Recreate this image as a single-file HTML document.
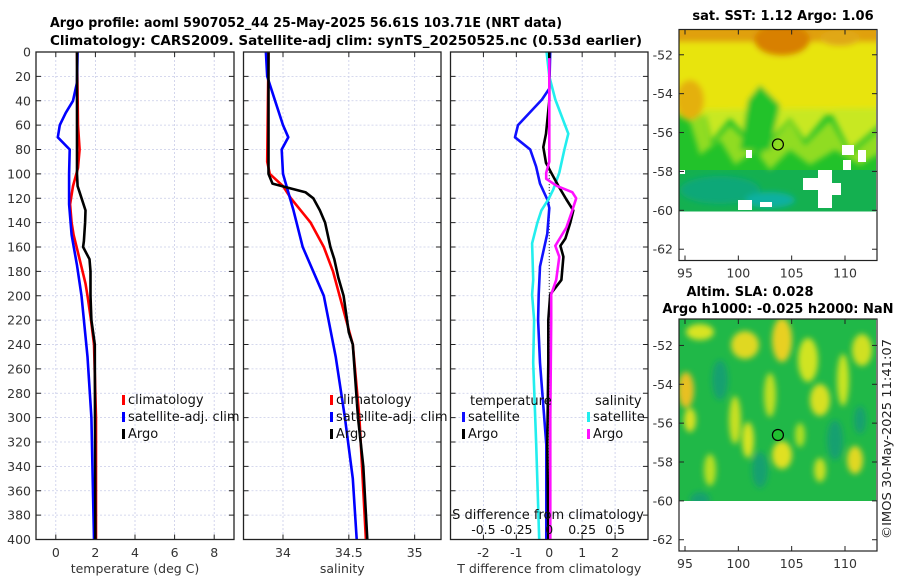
<!DOCTYPE html>
<html><head><meta charset="utf-8"><style>
html,body{margin:0;padding:0;background:#fff;width:900px;height:580px;overflow:hidden}
svg text{font-family:"DejaVu Sans","Liberation Sans",sans-serif}
</style></head><body>
<svg id="fig" xmlns="http://www.w3.org/2000/svg" width="900" height="580" viewBox="0 0 900 580">
<defs>
<filter id="blur3" x="-20%" y="-20%" width="140%" height="140%"><feGaussianBlur stdDeviation="3"/></filter>
<filter id="blur2" x="-20%" y="-20%" width="140%" height="140%"><feGaussianBlur stdDeviation="1.5"/></filter>
<clipPath id="clipTop"><rect x="679" y="29.5" width="197" height="182"/></clipPath>
<clipPath id="clipBot"><rect x="679" y="319" width="197" height="182"/></clipPath>
</defs>
<g font-weight="bold" font-size="13" fill="#000">
<text x="50" y="27" textLength="512" lengthAdjust="spacingAndGlyphs">Argo profile: aoml 5907052_44 25-May-2025 56.61S 103.71E (NRT data)</text>
<text x="50" y="45" textLength="592" lengthAdjust="spacingAndGlyphs">Climatology: CARS2009. Satellite-adj clim: synTS_20250525.nc (0.53d earlier)</text>
</g>
<g id="panels"></g>
<g id="maps"></g>
<text x="0" y="0" font-size="12" fill="#222" transform="translate(891,539) rotate(-90)" textLength="200" lengthAdjust="spacingAndGlyphs">©IMOS 30-May-2025 11:41:07</text>
</svg>
<script>
// ---------- data ----------
const depthT = [0,25,40,50,60,70,80,100,125,150,175,200,250,300,400];
const tempSat = [1.1,1.07,0.87,0.5,0.2,0.1,0.7,0.67,0.67,0.8,1.07,1.3,1.6,1.8,1.93];
const depthTc = [0,60,80,95,110,125,140,150,170,190,200,220,240,300,400];
const tempClim = [1.07,1.12,1.2,1.12,0.87,0.72,0.8,0.9,1.2,1.5,1.6,1.78,1.93,2.03,2.03];
const depthTa = [0,100,110,115,130,140,155,160,170,180,200,220,240,300,400];
const tempArgo = [1.07,1.07,1.1,1.2,1.5,1.48,1.42,1.38,1.7,1.75,1.75,1.8,1.97,1.98,2.0];

const depthSa = [0,100,108,112,115,120,130,140,160,170,185,200,230,240,300,340,400];
const salArgo = [33.89,33.89,33.92,34.06,34.17,34.23,34.28,34.32,34.36,34.39,34.42,34.46,34.5,34.53,34.57,34.61,34.64];
const depthSc = [0,90,100,110,120,140,160,180,200,240,300,400];
const salClim = [33.89,33.88,33.9,34.0,34.06,34.21,34.31,34.38,34.43,34.53,34.58,34.63];
const depthSs = [0,20,40,60,70,80,100,130,160,200,250,300,350,400];
const salSat = [33.87,33.88,33.94,34.0,34.04,33.99,34.0,34.08,34.15,34.31,34.4,34.47,34.53,34.56];

const depthD = [0,30,39,60,70,80,94,108,121,128,149,176,199,220,255,322,400];
const dTsat = [0.03,0.0,-0.22,-0.95,-1.04,-0.58,-0.4,-0.28,-0.06,0.0,-0.06,-0.28,-0.32,-0.34,-0.28,-0.09,-0.09];
const depthDa = [0,40,67,78,91,99,110,121,130,140,153,159,168,187,199,220,255,322,400];
const dTargo = [0,0,-0.1,-0.18,-0.1,0.06,0.28,0.52,0.73,0.64,0.49,0.34,0.43,0.37,0.03,-0.03,-0.03,-0.06,-0.03];
const depthDs = [0,20,39,67,80,99,113,121,130,140,157,187,199,220,255,322,400];
const dSsat = [-0.02,0,0.046,0.145,0.115,0.076,0.03,-0.007,-0.06,-0.09,-0.13,-0.122,-0.13,-0.115,-0.122,-0.099,-0.076];
const depthDsa = [5,90,99,104,110,115,120,130,144,159,168,187,199,220,300,400];
const dSargo = [0,0,-0.023,-0.023,0.06,0.175,0.205,0.175,0.13,0.046,0.076,0.053,0.015,0.015,0.008,0.008];

const depthTicks = [0,20,40,60,80,100,120,140,160,180,200,220,240,260,280,300,320,340,360,380,400];
const tTicks = [0,2,4,6,8];
const sTicks = [34,34.5,35];
const sTickLabels = ['34','34.5','35'];
const dTTicks = [-2,-1,0,1,2];
const dSTicks = [-0.5,-0.25,0,0.25,0.5];
const dSTickLabels = ['-0.5','-0.25','0','0.25','0.5'];
const latTicks = [-52,-54,-56,-58,-60,-62];
const lonTicks = [95,100,105,110];
const argoLon = 103.71, argoLat = -56.61;

// ---------- helpers ----------
const NS='http://www.w3.org/2000/svg';
function mk(tag, attrs, parent){const e=document.createElementNS(NS,tag);for(const k in attrs)e.setAttribute(k,attrs[k]);parent.appendChild(e);return e;}
const top0=52, bot0=539.5;
const yD = d => top0 + (bot0-top0)*d/400;
function lin(d0,d1,p0,p1){return v=>p0+(v-d0)*(p1-p0)/(d1-d0);}
const panels=document.getElementById('panels');

function panel(name,x0,x1,xs,ticks,labels,title,showY){
  const g=mk('g',{},panels);
  
  
  const grid=mk('g',{stroke:'#c8cce8','stroke-width':0.8,'stroke-dasharray':'2,2'},g);
  
  
  depthTicks.forEach(d=>{if(d>0&&d<400)mk('line',{x1:x0,x2:x1,y1:yD(d),y2:yD(d)},grid);});
  ticks.forEach(t=>{mk('line',{x1:xs(t),x2:xs(t),y1:top0,y2:bot0},grid);});
  const tk=mk('g',{stroke:'#222','stroke-width':1},g);
  depthTicks.forEach(d=>{mk('line',{x1:x0,x2:x0+5,y1:yD(d),y2:yD(d)},tk);mk('line',{x1:x1-5,x2:x1,y1:yD(d),y2:yD(d)},tk);});
  ticks.forEach(t=>{mk('line',{x1:xs(t),x2:xs(t),y1:bot0,y2:bot0-5},tk);mk('line',{x1:xs(t),x2:xs(t),y1:top0,y2:top0+5},tk);});
  const xl=mk('g',{'font-size':12.5,fill:'#333','text-anchor':'middle'},g);
  
  
  ticks.forEach((t,i)=>{const e=mk('text',{x:xs(t),y:557},xl);e.textContent=labels[i];});
  const tt=mk('text',{x:(x0+x1)/2,y:573,'font-size':12.5,fill:'#333','text-anchor':'middle'},g);
  
  
  tt.textContent=title;
  if(showY){
    const yl=mk('g',{'font-size':12.5,fill:'#333','text-anchor':'end'},g);
    
    
    depthTicks.forEach(d=>{const e=mk('text',{x:31,y:yD(d)+4.5},yl);e.textContent=String(d);});
  }
  return g;
}
function line(g,name,xs,depths,vals,color){
  const pts=depths.map((d,i)=>xs(vals[i]).toFixed(1)+','+yD(d).toFixed(1)).join(' ');
  const p=mk('polyline',{points:pts,fill:'none',stroke:color,'stroke-width':2.6,'stroke-linejoin':'round'},g);
  
  
}
function frame(g,x0,x1){mk('rect',{x:x0,y:top0,width:x1-x0,height:bot0-top0,fill:'none',stroke:'#222','stroke-width':1.3},g);}
function legendItem(g,name,x,y,color,label){
  const it=mk('g',{},g);
  
  
  mk('rect',{x:x,y:y-9,width:3,height:10,fill:color},it);
  const t=mk('text',{x:x+6,y:y,'font-size':13,fill:'#111'},it);t.textContent=label;
}

// Panel 1 temperature
const xT=lin(-1,9,36,234);
const p1=panel('temperature-panel',36,234,xT,tTicks,tTicks.map(String),'temperature (deg C)',true);
line(p1,'temp-climatology-line',xT,depthTc,tempClim,'#ff0000');
line(p1,'temp-satellite-line',xT,depthT,tempSat,'#0000ff');
line(p1,'temp-argo-line',xT,depthTa,tempArgo,'#000000');
frame(p1,36,234);
legendItem(p1,'legend-climatology',122,404,'#ff0000','climatology');
legendItem(p1,'legend-satellite',122,421,'#0000ff','satellite-adj. clim');
legendItem(p1,'legend-argo',122,438,'#000','Argo');

// Panel 2 salinity
const xS=lin(33.7,35.2,243.5,441);
const p2=panel('salinity-panel',243.5,441,xS,sTicks,sTickLabels,'salinity',false);
line(p2,'sal-climatology-line',xS,depthSc,salClim,'#ff0000');
line(p2,'sal-satellite-line',xS,depthSs,salSat,'#0000ff');
line(p2,'sal-argo-line',xS,depthSa,salArgo,'#000000');
frame(p2,243.5,441);
legendItem(p2,'legend-climatology-sal',330,404,'#ff0000','climatology');
legendItem(p2,'legend-satellite-sal',330,421,'#0000ff','satellite-adj. clim');
legendItem(p2,'legend-argo-sal',330,438,'#000','Argo');

// Panel 3 differences
const xDT=lin(-3,3,450.5,648);
const xDS=v=>xDT(v*4);
const p3=panel('difference-panel',450.5,648,xDT,dTTicks,dTTicks.map(String),'T difference from climatology',false);
mk('line',{x1:xDT(0),x2:xDT(0),y1:top0,y2:bot0,stroke:'#333','stroke-dasharray':'1,2','stroke-width':1},p3);
line(p3,'dT-satellite-line',xDT,depthD,dTsat,'#1010ff');
line(p3,'dS-satellite-line',xDS,depthDs,dSsat,'#22eeee');
line(p3,'dT-argo-line',xDT,depthDa,dTargo,'#000000');
line(p3,'dS-argo-line',xDS,depthDsa,dSargo,'#ff10ff');
frame(p3,450.5,648);
{const st=mk('text',{x:548,y:519,'font-size':13,fill:'#111','text-anchor':'middle'},p3);st.textContent='S difference from climatology';
 const sl=mk('g',{'font-size':12.5,fill:'#111','text-anchor':'middle'},p3);
 dSTicks.forEach((t,i)=>{const e=mk('text',{x:xDS(t),y:534},sl);e.textContent=dSTickLabels[i];});
 const h1=mk('text',{x:470,y:405,'font-size':13,fill:'#111'},p3);h1.textContent='temperature';
 const h2=mk('text',{x:595,y:405,'font-size':13,fill:'#111'},p3);h2.textContent='salinity';
}
legendItem(p3,'legend-dT-satellite',462,421,'#1010ff','satellite');
legendItem(p3,'legend-dT-argo',462,438,'#000','Argo');
legendItem(p3,'legend-dS-satellite',587,421,'#22eeee','satellite');
legendItem(p3,'legend-dS-argo',587,438,'#ff10ff','Argo');

// ---------- maps ----------
const maps=document.getElementById('maps');
const xLon=lin(95,110,685,845);
function map(name,top,bottom,latTop,latBot,clip,title1,title2,title1x,title1y,title2x,title2y){
  const g=mk('g',{},maps);
  
  
  const yLat=lin(latTop,latBot,top,bottom);
  const field=mk('g',{'clip-path':'url(#'+clip+')'},g);
  
  
  return {g,yLat,field,finish:function(){
    const c=mk('circle',{cx:xLon(argoLon),cy:yLat(argoLat),r:5.5,fill:'none',stroke:'#000','stroke-width':1.2},g);
    
    
    mk('rect',{x:679,y:top,width:198,height:bottom-top,fill:'none',stroke:'#222','stroke-width':1.2},g);
    const tk=mk('g',{stroke:'#222'},g);
    latTicks.forEach(l=>{mk('line',{x1:679,x2:684,y1:yLat(l),y2:yLat(l)},tk);mk('line',{x1:872,x2:877,y1:yLat(l),y2:yLat(l)},tk);});
    lonTicks.forEach(l=>{mk('line',{x1:xLon(l),x2:xLon(l),y1:top,y2:top+5},tk);mk('line',{x1:xLon(l),x2:xLon(l),y1:bottom-5,y2:bottom},tk);});
    const ll=mk('g',{'font-size':12.5,fill:'#333','text-anchor':'end'},g);
    
    
    latTicks.forEach(l=>{const e=mk('text',{x:673,y:yLat(l)+4.5},ll);e.textContent=String(l);});
    const lo=mk('g',{'font-size':12.5,fill:'#333','text-anchor':'middle'},g);
    
    
    lonTicks.forEach(l=>{const e=mk('text',{x:xLon(l),y:bottom+17},lo);e.textContent=String(l);});
    const t1=mk('text',{x:title1x,y:title1y,'font-size':13,'font-weight':'bold',fill:'#000','text-anchor':'middle'},g);
    
    
    t1.textContent=title1;
    if(title2){const t2=mk('text',{x:title2x,y:title2y,'font-size':13,'font-weight':'bold',fill:'#000','text-anchor':'middle'},g);
      
      
      t2.textContent=title2;}
  }};
}
// SST map
const m1=map('sst-map',29.5,260.5,-50.7,-62.58,'clipTop','sat. SST: 1.12 Argo: 1.06',null,783,20);
{const f=m1.field;
 mk('rect',{x:679,y:29,width:198,height:183,fill:'#22c22a'},f);
 mk('rect',{x:679,y:170,width:198,height:42,fill:'#14b050'},f);
 const b=mk('g',{filter:'url(#blur3)'},f);
 mk('rect',{x:670,y:20,width:215,height:95,fill:'#e8e410'},b);
 mk('path',{d:'M670,110 L705,112 L712,140 L730,118 L760,150 L790,118 L805,140 L830,110 L850,150 L885,120 L885,108 Z',fill:'#c8e820'},b);
 mk('path',{d:'M670,112 L690,122 L700,155 L720,140 L735,165 L755,150 L770,170 L790,150 L810,165 L835,150 L860,165 L885,150 L885,125 L850,155 L830,120 L805,145 L790,120 L760,155 L730,125 L712,145 L705,115 Z',fill:'#90dc20'},b);
 mk('path',{d:'M770,150 L780,105 L760,85 L748,100 L740,150 Z',fill:'#22c22a'},b);
 mk('rect',{x:670,y:20,width:215,height:22,fill:'#e0a010'},b);
 mk('ellipse',{cx:782,cy:40,rx:28,ry:16,fill:'#d88000'},b);
 mk('ellipse',{cx:690,cy:100,rx:14,ry:20,fill:'#e4b010'},b);
 mk('ellipse',{cx:840,cy:38,rx:20,ry:8,fill:'#e0a818'},b);
 mk('ellipse',{cx:720,cy:190,rx:40,ry:14,fill:'#10a878'},b);
 mk('ellipse',{cx:770,cy:200,rx:25,ry:8,fill:'#10b0a0'},b);
 const w=mk('g',{fill:'#fff'},f);
 [[818,170,14,38],[831,183,10,12],[803,178,16,12],[842,145,12,10],[858,150,8,12],[843,160,8,10],[746,150,6,8],[680,170,5,4],[738,200,14,10],[760,202,12,5]].forEach(r=>mk('rect',{x:r[0],y:r[1],width:r[2],height:r[3]},w));
 mk('rect',{x:679,y:211.5,width:198,height:49,fill:'#fff'},m1.g);
}
m1.finish();
// SLA map
const m2=map('sla-map',319,551,-50.64,-62.58,'clipBot','Altim. SLA: 0.028','Argo h1000: -0.025 h2000: NaN',750,296,778,313);
{const f=m2.field;
 mk('rect',{x:679,y:318,width:198,height:184,fill:'#20b848'},f);
 const b=mk('g',{filter:'url(#blur3)'},f);
 const streaks=[[700,332,14,8,'#d8e420'],[745,345,14,14,'#e0d820'],[782,340,10,22,'#e8d020'],[686,390,8,18,'#e8c020'],[690,420,6,12,'#d8e020'],[735,420,6,24,'#c8e020'],[748,440,6,18,'#d8e420'],[770,395,6,22,'#c0e020'],[782,455,10,14,'#e0e020'],[808,360,10,22,'#d0e420'],[820,400,10,16,'#d8e020'],[843,380,6,26,'#c8e420'],[862,350,10,16,'#d0e020'],[855,460,8,14,'#e0d820'],[820,470,6,12,'#c8e020'],[710,470,6,16,'#b8e020'],[800,435,5,12,'#b0e020']];
 streaks.forEach(s=>mk('ellipse',{cx:s[0],cy:s[1],rx:s[2],ry:s[3],fill:s[4]},b));
 [[720,380,8,20],[760,470,8,18],[835,440,8,20],[700,500,10,8],[860,420,6,14]].forEach(s=>mk('ellipse',{cx:s[0],cy:s[1],rx:s[2],ry:s[3],fill:'#14a070'},b));
 mk('rect',{x:679,y:501,width:198,height:50,fill:'#fff'},m2.g);
 mk('circle',{cx:xLon(argoLon),cy:m2.yLat(argoLat),r:5,fill:'#20c030'},m2.g);
}
m2.finish();
</script>
</body></html>
